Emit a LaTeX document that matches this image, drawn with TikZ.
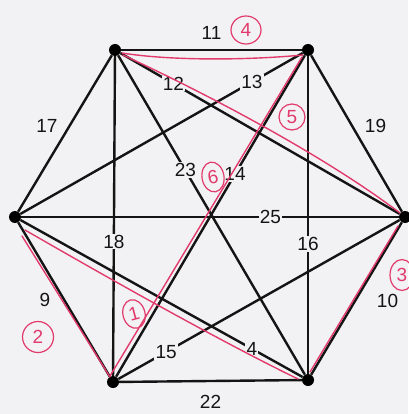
\documentclass[tikz,border=0pt]{standalone}
\usepackage{fontspec}
\setmainfont{Liberation Sans}
\usetikzlibrary{calc,shapes.geometric}
\definecolor{bg}{HTML}{F2F2F4}
\definecolor{pen}{HTML}{E23A6C}
\definecolor{ink}{HTML}{141414}
\begin{document}
\begin{tikzpicture}[x=1pt,y=-1pt,
  edge/.style={line width=2.4pt, ink},
  lab/.style={fill=bg, inner sep=1.2pt, text=ink, font=\fontsize{19}{19}\selectfont},
  sidelab/.style={inner sep=0pt, text=ink, font=\fontsize{19}{19}\selectfont},
  vtx/.style={circle, fill=black, minimum size=12pt, inner sep=0pt},
  redline/.style={pen, line width=1.4pt, line cap=round},
  circnum/.style={ellipse, draw=pen, line width=1.2pt, text=pen, inner sep=0pt,
    font=\fontsize{19}{19}\selectfont}
]
\useasboundingbox[fill=bg] (0,0) rectangle (408,414);

% vertices
\node[vtx] (A) at (115,50) {};
\node[vtx] (B) at (308,50) {};
\node[vtx] (C) at (405,217) {};
\node[vtx] (D) at (308,380) {};
\node[vtx] (E) at (113,382) {};
\node[vtx] (F) at (15,217) {};

% sides
\draw[edge] (A) -- (B);
\draw[edge] (B) -- (C);
\draw[edge] (C) -- (D);
\draw[edge] (D) -- (E);
\draw[edge] (E) -- (F);
\draw[edge] (F) -- (A);
% diagonals
\draw[edge] (A) -- (C);
\draw[edge] (A) -- (D);
\draw[edge] (A) -- (E);
\draw[edge] (B) -- (D);
\draw[edge] (B) -- (E);
\draw[edge] (B) -- (F);
\draw[edge] (C) -- (E);
\draw[edge] (C) -- (F);
\draw[edge] (D) -- (F);

% labels on diagonals
\path (A) -- node[lab, pos=0.19] (l12) {12} (C);
\path (B) -- node[lab, pos=0.18] (l13) {13} (F);
\path (A) -- node[lab, pos=0.36] (l23) {23} (D);
\path (B) -- node[lab, pos=0.37] (l14) {14} (E);
\path (C) -- node[lab, pos=0.34] (l25) {25} (F);
\path (A) -- node[lab, pos=0.58] (l18) {18} (E);
\path (B) -- node[lab, pos=0.59] (l16) {16} (D);
\path (E) -- node[lab, pos=0.17] (l15) {15} (C);
\path (F) -- node[lab, pos=0.82] (l4) {4} (D);
% labels on sides
\path (A) -- node[sidelab, midway, yshift=17pt] (l11) {11} (B);
\path (F) -- node[sidelab, midway, xshift=-18pt, yshift=8pt] (l17) {17} (A);
\path (B) -- node[sidelab, midway, xshift=19pt, yshift=8pt] (l19) {19} (C);
\path (E) -- node[sidelab, midway, xshift=-19pt] (l9) {9} (F);
\path (C) -- node[sidelab, midway, xshift=31pt, yshift=-2pt] (l10) {10} (D);
\path (D) -- node[sidelab, midway, yshift=-21pt] (l22) {22} (E);

% red pen annotations
\draw[redline] ($(F)+(10,13)$) .. controls ($(F)+(95,62)$) and ($(D)+(-90,-40)$) .. ($(D)+(-10,-1)$);
\draw[redline] ($(F)+(7,19)$) -- ($(E)+(-3,-5)$);
\draw[redline] ($(E)+(-3,-6)$) -- ($(B)+(-6,7)$);
\draw[redline] ($(B)+(-5,5)$) .. controls ($(B)+(-70,11)$) and ($(A)+(50,10)$) .. ($(A)+(7,3)$);
\draw[redline] ($(A)+(8,5)$) .. controls ($(A)+(105,50)$) and ($(C)+(-75,-57)$) .. ($(C)+(-5,-4)$);
\draw[redline] ($(C)+(-7,9)$) -- ($(D)+(2,-8)$);

% circled step numbers
\node[circnum, minimum width=22pt, minimum height=29pt, rotate=15] (s1) at (134,314) {1};
\node[circnum, minimum width=31pt, minimum height=31pt] (s2) at (38,337) {2};
\node[circnum, minimum width=24pt, minimum height=31pt] (s3) at (402,275) {3};
\node[circnum, minimum width=30pt, minimum height=28pt] (s4) at (246,30) {4};
\node[circnum, minimum width=26pt, minimum height=26pt] (s5) at (292,117) {5};
\node[circnum, minimum width=22pt, minimum height=30pt, rotate=10] (s6) at (213,177) {6};
\end{tikzpicture}
\end{document}
